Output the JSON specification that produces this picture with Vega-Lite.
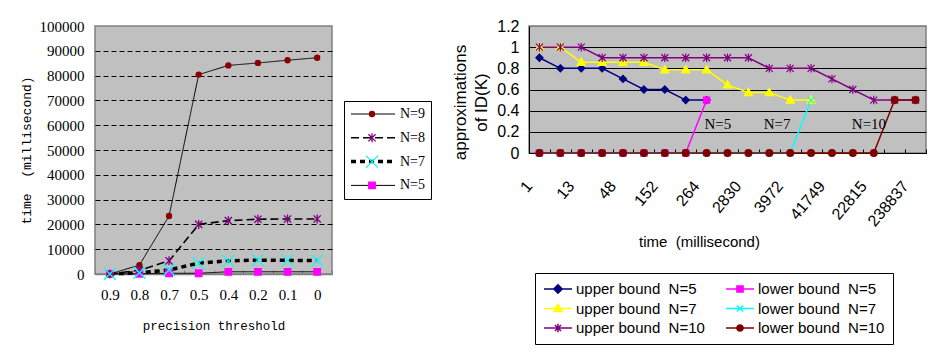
{
  "$schema": "https://vega.github.io/schema/vega-lite/v6.json",
  "background": "white",
  "padding": {"left": 19, "top": 17, "right": 3, "bottom": 5},
  "spacing": 18,
  "resolve": {
    "scale": {"shape": "independent", "fill": "independent", "stroke": "independent", "strokeDash": "independent", "strokeWidth": "independent", "color": "independent"},
    "legend": {"shape": "independent", "fill": "independent", "stroke": "independent", "strokeDash": "independent", "strokeWidth": "independent", "color": "independent"}
  },
  "config": {
    "axis": {"labelColor": "black", "titleColor": "black", "titleFontWeight": "normal"},
    "legend": {"labelColor": "black"}
  },
  "datasets": {
    "left": [
      {"thr": "0.9", "N": "N=5", "t": 0}, {"thr": "0.8", "N": "N=5", "t": 100}, {"thr": "0.7", "N": "N=5", "t": 300}, {"thr": "0.5", "N": "N=5", "t": 300},
      {"thr": "0.4", "N": "N=5", "t": 900}, {"thr": "0.2", "N": "N=5", "t": 900}, {"thr": "0.1", "N": "N=5", "t": 900}, {"thr": "0", "N": "N=5", "t": 900},
      {"thr": "0.9", "N": "N=9", "t": 0}, {"thr": "0.8", "N": "N=9", "t": 3600}, {"thr": "0.7", "N": "N=9", "t": 23400}, {"thr": "0.5", "N": "N=9", "t": 80400},
      {"thr": "0.4", "N": "N=9", "t": 84100}, {"thr": "0.2", "N": "N=9", "t": 85100}, {"thr": "0.1", "N": "N=9", "t": 86200}, {"thr": "0", "N": "N=9", "t": 87200},
      {"thr": "0.9", "N": "N=8", "t": 0}, {"thr": "0.8", "N": "N=8", "t": 1500}, {"thr": "0.7", "N": "N=8", "t": 5300}, {"thr": "0.5", "N": "N=8", "t": 20000},
      {"thr": "0.4", "N": "N=8", "t": 21500}, {"thr": "0.2", "N": "N=8", "t": 22100}, {"thr": "0.1", "N": "N=8", "t": 22200}, {"thr": "0", "N": "N=8", "t": 22200},
      {"thr": "0.9", "N": "N=7", "t": 0}, {"thr": "0.8", "N": "N=7", "t": 500}, {"thr": "0.7", "N": "N=7", "t": 1600}, {"thr": "0.5", "N": "N=7", "t": 4400},
      {"thr": "0.4", "N": "N=7", "t": 5300}, {"thr": "0.2", "N": "N=7", "t": 5600}, {"thr": "0.1", "N": "N=7", "t": 5500}, {"thr": "0", "N": "N=7", "t": 5400}
    ],
    "right": [
      {"s": "upper bound\u00a0 N=5", "i": 0, "v": 0.9}, {"s": "upper bound\u00a0 N=5", "i": 1, "v": 0.8}, {"s": "upper bound\u00a0 N=5", "i": 2, "v": 0.8},
      {"s": "upper bound\u00a0 N=5", "i": 3, "v": 0.8}, {"s": "upper bound\u00a0 N=5", "i": 4, "v": 0.7}, {"s": "upper bound\u00a0 N=5", "i": 5, "v": 0.6},
      {"s": "upper bound\u00a0 N=5", "i": 6, "v": 0.6}, {"s": "upper bound\u00a0 N=5", "i": 7, "v": 0.5}, {"s": "upper bound\u00a0 N=5", "i": 8, "v": 0.5},
      {"s": "upper bound\u00a0 N=7", "i": 0, "v": 1}, {"s": "upper bound\u00a0 N=7", "i": 1, "v": 1}, {"s": "upper bound\u00a0 N=7", "i": 2, "v": 0.857},
      {"s": "upper bound\u00a0 N=7", "i": 3, "v": 0.857}, {"s": "upper bound\u00a0 N=7", "i": 4, "v": 0.857}, {"s": "upper bound\u00a0 N=7", "i": 5, "v": 0.857},
      {"s": "upper bound\u00a0 N=7", "i": 6, "v": 0.786}, {"s": "upper bound\u00a0 N=7", "i": 7, "v": 0.786}, {"s": "upper bound\u00a0 N=7", "i": 8, "v": 0.786},
      {"s": "upper bound\u00a0 N=7", "i": 9, "v": 0.643}, {"s": "upper bound\u00a0 N=7", "i": 10, "v": 0.571}, {"s": "upper bound\u00a0 N=7", "i": 11, "v": 0.571},
      {"s": "upper bound\u00a0 N=7", "i": 12, "v": 0.5}, {"s": "upper bound\u00a0 N=7", "i": 13, "v": 0.5},
      {"s": "upper bound\u00a0 N=10", "i": 0, "v": 1}, {"s": "upper bound\u00a0 N=10", "i": 1, "v": 1}, {"s": "upper bound\u00a0 N=10", "i": 2, "v": 1},
      {"s": "upper bound\u00a0 N=10", "i": 3, "v": 0.9}, {"s": "upper bound\u00a0 N=10", "i": 4, "v": 0.9}, {"s": "upper bound\u00a0 N=10", "i": 5, "v": 0.9},
      {"s": "upper bound\u00a0 N=10", "i": 6, "v": 0.9}, {"s": "upper bound\u00a0 N=10", "i": 7, "v": 0.9}, {"s": "upper bound\u00a0 N=10", "i": 8, "v": 0.9},
      {"s": "upper bound\u00a0 N=10", "i": 9, "v": 0.9}, {"s": "upper bound\u00a0 N=10", "i": 10, "v": 0.9}, {"s": "upper bound\u00a0 N=10", "i": 11, "v": 0.8},
      {"s": "upper bound\u00a0 N=10", "i": 12, "v": 0.8}, {"s": "upper bound\u00a0 N=10", "i": 13, "v": 0.8}, {"s": "upper bound\u00a0 N=10", "i": 14, "v": 0.7},
      {"s": "upper bound\u00a0 N=10", "i": 15, "v": 0.6}, {"s": "upper bound\u00a0 N=10", "i": 16, "v": 0.5}, {"s": "upper bound\u00a0 N=10", "i": 17, "v": 0.5},
      {"s": "upper bound\u00a0 N=10", "i": 18, "v": 0.5},
      {"s": "lower bound\u00a0 N=5", "i": 0, "v": 0}, {"s": "lower bound\u00a0 N=5", "i": 1, "v": 0}, {"s": "lower bound\u00a0 N=5", "i": 2, "v": 0},
      {"s": "lower bound\u00a0 N=5", "i": 3, "v": 0}, {"s": "lower bound\u00a0 N=5", "i": 4, "v": 0}, {"s": "lower bound\u00a0 N=5", "i": 5, "v": 0},
      {"s": "lower bound\u00a0 N=5", "i": 6, "v": 0}, {"s": "lower bound\u00a0 N=5", "i": 7, "v": 0}, {"s": "lower bound\u00a0 N=5", "i": 8, "v": 0.5},
      {"s": "lower bound\u00a0 N=7", "i": 0, "v": 0}, {"s": "lower bound\u00a0 N=7", "i": 1, "v": 0}, {"s": "lower bound\u00a0 N=7", "i": 2, "v": 0},
      {"s": "lower bound\u00a0 N=7", "i": 3, "v": 0}, {"s": "lower bound\u00a0 N=7", "i": 4, "v": 0}, {"s": "lower bound\u00a0 N=7", "i": 5, "v": 0},
      {"s": "lower bound\u00a0 N=7", "i": 6, "v": 0}, {"s": "lower bound\u00a0 N=7", "i": 7, "v": 0}, {"s": "lower bound\u00a0 N=7", "i": 8, "v": 0},
      {"s": "lower bound\u00a0 N=7", "i": 9, "v": 0}, {"s": "lower bound\u00a0 N=7", "i": 10, "v": 0}, {"s": "lower bound\u00a0 N=7", "i": 11, "v": 0},
      {"s": "lower bound\u00a0 N=7", "i": 12, "v": 0}, {"s": "lower bound\u00a0 N=7", "i": 13, "v": 0.5},
      {"s": "lower bound\u00a0 N=10", "i": 0, "v": 0}, {"s": "lower bound\u00a0 N=10", "i": 1, "v": 0}, {"s": "lower bound\u00a0 N=10", "i": 2, "v": 0},
      {"s": "lower bound\u00a0 N=10", "i": 3, "v": 0}, {"s": "lower bound\u00a0 N=10", "i": 4, "v": 0}, {"s": "lower bound\u00a0 N=10", "i": 5, "v": 0},
      {"s": "lower bound\u00a0 N=10", "i": 6, "v": 0}, {"s": "lower bound\u00a0 N=10", "i": 7, "v": 0}, {"s": "lower bound\u00a0 N=10", "i": 8, "v": 0},
      {"s": "lower bound\u00a0 N=10", "i": 9, "v": 0}, {"s": "lower bound\u00a0 N=10", "i": 10, "v": 0}, {"s": "lower bound\u00a0 N=10", "i": 11, "v": 0},
      {"s": "lower bound\u00a0 N=10", "i": 12, "v": 0}, {"s": "lower bound\u00a0 N=10", "i": 13, "v": 0}, {"s": "lower bound\u00a0 N=10", "i": 14, "v": 0},
      {"s": "lower bound\u00a0 N=10", "i": 15, "v": 0}, {"s": "lower bound\u00a0 N=10", "i": 16, "v": 0}, {"s": "lower bound\u00a0 N=10", "i": 17, "v": 0.5},
      {"s": "lower bound\u00a0 N=10", "i": 18, "v": 0.5}
    ],
    "notes": [
      {"i": 8.54, "v": 0.27, "label": "N=5"},
      {"i": 11.37, "v": 0.27, "label": "N=7"},
      {"i": 15.77, "v": 0.27, "label": "N=10"}
    ]
  },
  "hconcat": [
    {
      "width": 237,
      "height": 248,
      "view": {"fill": "#c0c0c0", "stroke": "#808080", "strokeWidth": 1.5},
      "data": {"name": "left"},
      "resolve": {"scale": {"shape": "independent", "fill": "independent", "stroke": "independent"}},
      "encoding": {
        "x": {
          "field": "thr", "type": "ordinal",
          "sort": ["0.9", "0.8", "0.7", "0.5", "0.4", "0.2", "0.1", "0"],
          "scale": {"type": "band", "paddingInner": 0, "paddingOuter": 0},
          "axis": {
            "title": "precision threshold", "titleFont": "Liberation Mono", "titleFontSize": 12.5, "titlePadding": 17,
            "labelAngle": 0, "labelFont": "Liberation Serif", "labelFontSize": 15, "labelPadding": 17,
            "tickBand": "extent", "tickSize": -4, "tickColor": "#808080", "domainColor": "#808080", "domainWidth": 1.5
          }
        },
        "y": {
          "field": "t", "type": "quantitative",
          "scale": {"domain": [0, 100000], "nice": false},
          "axis": {
            "values": [0, 10000, 20000, 30000, 40000, 50000, 60000, 70000, 80000, 90000, 100000],
            "format": "d", "ticks": false, "domain": false,
            "labelFont": "Liberation Serif", "labelFontSize": 15, "labelPadding": 11,
            "grid": true, "gridColor": "black", "gridDash": [5, 3],
            "gridOpacity": {"condition": {"test": "datum.value == 0 || datum.value == 100000", "value": 0}, "value": 1},
            "title": "time\u00a0 (millisecond)", "titleFont": "Liberation Mono", "titleFontSize": 13, "titlePadding": 6
          }
        }
      },
      "layer": [
        {
          "mark": {"type": "line", "color": "black"},
          "encoding": {
            "strokeDash": {
              "field": "N", "type": "nominal",
              "scale": {"domain": ["N=9", "N=8", "N=7", "N=5"], "range": [[1, 0], [8, 4], [5, 4], [1, 0]]},
              "legend": {
                "orient": "none", "legendX": 249, "legendY": 75, "title": null,
                "symbolType": "stroke", "symbolSize": 1936, "symbolStrokeColor": "black",
                "strokeColor": "black", "fillColor": "white", "padding": 5, "rowPadding": 7.8, "clipHeight": 16,
                "labelFont": "Liberation Serif", "labelFontSize": 14, "labelOffset": 3
              }
            },
            "strokeWidth": {
              "field": "N", "type": "nominal",
              "scale": {"type": "ordinal", "domain": ["N=9", "N=8", "N=7", "N=5"], "range": [1, 1.6, 3.5, 1]}
            }
          }
        },
        {
          "mark": {"type": "point", "filled": true, "size": 144, "opacity": 1, "strokeWidth": 1.3},
          "encoding": {
            "shape": {
              "field": "N", "type": "nominal",
              "scale": {"domain": ["N=9", "N=8", "N=7", "N=5"], "range": [
                "M0.42,0A0.42,0.42 0 1,1 -0.42,0A0.42,0.42 0 1,1 0.42,0Z",
                "M-0.6,-0.6L0.6,0.6M-0.6,0.6L0.6,-0.6M0,-0.75V0.75",
                "M-1,-1L1,1M-1,1L1,-1",
                "M-0.54,-0.54H0.54V0.54H-0.54Z"
              ]},
              "legend": {
                "orient": "none", "legendX": 249, "legendY": 75, "title": null,
                "symbolSize": 144, "symbolOffset": 16, "symbolStrokeWidth": 1.3, "symbolOpacity": 1,
                "padding": 5, "rowPadding": 7.8, "clipHeight": 16,
                "labelFont": "Liberation Serif", "labelFontSize": 14, "labelOffset": 3, "labelOpacity": 0, "labelExpr": "''"
              }
            },
            "fill": {
              "field": "N", "type": "nominal",
              "scale": {"domain": ["N=9", "N=8", "N=7", "N=5"], "range": ["#8b0000", "#800080", "#00ffff", "#ff00ff"]}
            },
            "stroke": {
              "field": "N", "type": "nominal",
              "scale": {"domain": ["N=9", "N=8", "N=7", "N=5"], "range": ["#8b0000", "#800080", "#00ffff", "#ff00ff"]}
            }
          }
        }
      ]
    },
    {
      "width": 397,
      "height": 127,
      "view": {"fill": "#c0c0c0", "stroke": "#808080", "strokeWidth": 1.5},
      "resolve": {"scale": {"shape": "independent", "fill": "independent", "stroke": "independent"}},
      "encoding": {
        "x": {
          "field": "i", "type": "quantitative",
          "scale": {"domain": [-0.5, 18.5], "nice": false, "zero": false},
          "axis": {
            "values": [-0.5, 0.5, 1.5, 2.5, 3.5, 4.5, 5.5, 6.5, 7.5, 8.5, 9.5, 10.5, 11.5, 12.5, 13.5, 14.5, 15.5, 16.5, 17.5, 18.5],
            "labelExpr": "((datum.value + 0.5) / 2 == floor((datum.value + 0.5) / 2)) ? ['1', '13', '48', '152', '264', '2830', '3972', '41749', '22815', '238837'][(datum.value + 0.5) / 2] : ''",
            "labelAngle": -50, "labelAlign": "right", "labelBaseline": "middle",
            "labelFont": "Liberation Sans", "labelFontSize": 16, "labelPadding": 34, "labelOverlap": false, "labelFlush": false,
            "grid": false, "tickSize": -4, "tickColor": "black", "domainColor": "black",
            "title": "time\u00a0 (millisecond)", "titleFont": "Liberation Sans", "titleFontSize": 15, "titlePadding": 5, "titleX": 170
          }
        },
        "y": {
          "field": "v", "type": "quantitative",
          "scale": {"domain": [0, 1.2], "nice": false},
          "axis": {
            "values": [0, 0.2, 0.4, 0.6, 0.8, 1, 1.2], "format": ".1~f",
            "grid": true, "gridColor": {"condition": {"test": "datum.value >= 1.2", "value": "#808080"}, "value": "black"},
            "ticks": false, "domainColor": "black",
            "labelFont": "Liberation Sans", "labelFontSize": 16, "labelPadding": 10,
            "title": ["approximations", "of ID(K)"], "titleFont": "Liberation Sans", "titleFontSize": 17,
            "titleLineHeight": 21, "titlePadding": 6, "titleY": 76
          }
        }
      },
      "layer": [
        {
          "data": {"name": "right"},
          "mark": {"type": "line", "strokeWidth": 1.5},
          "encoding": {
            "stroke": {
              "field": "s", "type": "nominal",
              "scale": {
                "domain": ["upper bound\u00a0 N=5", "upper bound\u00a0 N=7", "upper bound\u00a0 N=10", "lower bound\u00a0 N=5", "lower bound\u00a0 N=7", "lower bound\u00a0 N=10"],
                "range": ["#000080", "#ffff00", "#800080", "#ff00ff", "#00ffff", "#800000"]
              },
              "legend": null
            }
          }
        },
        {
          "data": {"name": "right"},
          "mark": {"type": "point", "filled": true, "size": 100, "opacity": 1, "strokeWidth": 1.2},
          "encoding": {
            "shape": {
              "field": "s", "type": "nominal",
              "scale": {
                "domain": ["upper bound\u00a0 N=5", "upper bound\u00a0 N=7", "upper bound\u00a0 N=10", "lower bound\u00a0 N=5", "lower bound\u00a0 N=7", "lower bound\u00a0 N=10"],
                "range": [
                  "M0,-0.72L0.72,0L0,0.72L-0.72,0Z",
                  "M0,-0.85L0.8,0.6H-0.8Z",
                  "M-0.7,-0.7L0.7,0.7M-0.7,0.7L0.7,-0.7M0,-0.85V0.85",
                  "M-0.62,-0.62H0.62V0.62H-0.62Z",
                  "M-0.65,-0.65L0.65,0.65M-0.65,0.65L0.65,-0.65",
                  "M0.68,0A0.68,0.68 0 1,1 -0.68,0A0.68,0.68 0 1,1 0.68,0Z"
                ]
              },
              "legend": null
            },
            "fill": {
              "field": "s", "type": "nominal",
              "scale": {
                "domain": ["upper bound\u00a0 N=5", "upper bound\u00a0 N=7", "upper bound\u00a0 N=10", "lower bound\u00a0 N=5", "lower bound\u00a0 N=7", "lower bound\u00a0 N=10"],
                "range": ["#000080", "#ffff00", "#800080", "#ff00ff", "#00ffff", "#800000"]
              },
              "legend": null
            },
            "stroke": {
              "field": "s", "type": "nominal",
              "scale": {
                "domain": ["upper bound\u00a0 N=5", "upper bound\u00a0 N=7", "upper bound\u00a0 N=10", "lower bound\u00a0 N=5", "lower bound\u00a0 N=7", "lower bound\u00a0 N=10"],
                "range": ["#000080", "#ffff00", "#800080", "#ff00ff", "#00ffff", "#800000"]
              },
              "legend": null
            }
          }
        },
        {
          "data": {"name": "notes"},
          "mark": {"type": "text", "font": "Liberation Serif", "fontSize": 15, "color": "black", "baseline": "middle", "align": "center"},
          "encoding": {
            "text": {"field": "label", "type": "nominal"}
          }
        },
        {
          "data": {"name": "right"},
          "mark": {"type": "point", "filled": true, "size": 784, "opacity": 0, "strokeWidth": 1.5},
          "encoding": {
            "shape": {
              "field": "s", "type": "nominal",
              "scale": {
                "domain": ["upper bound\u00a0 N=5", "upper bound\u00a0 N=7", "upper bound\u00a0 N=10", "lower bound\u00a0 N=5", "lower bound\u00a0 N=7", "lower bound\u00a0 N=10"],
                "range": [
                  "M-1,0H1M0,-0.3L0.3,0L0,0.3L-0.3,0Z",
                  "M-1,0H1M0,-0.32L0.3,0.22H-0.3Z",
                  "M-1,0H1M-0.22,-0.22L0.22,0.22M-0.22,0.22L0.22,-0.22M0,-0.3V0.3",
                  "M-1,0H1M-0.22,-0.22H0.22V0.22H-0.22Z",
                  "M-1,0H1M-0.22,-0.22L0.22,0.22M-0.22,0.22L0.22,-0.22",
                  "M-1,0H1M0.22,0A0.22,0.22 0 1,1 -0.22,0A0.22,0.22 0 1,1 0.22,0Z"
                ]
              },
              "legend": {
                "orient": "none", "legendX": 6, "legendY": 247, "title": null,
                "columns": 2, "columnPadding": 20, "rowPadding": 3.5, "clipHeight": 16,
                "symbolSize": 784, "symbolStrokeWidth": 1.5, "symbolOpacity": 1,
                "padding": 8, "strokeColor": "black", "fillColor": "white",
                "labelFont": "Liberation Sans", "labelFontSize": 15, "labelOffset": 3, "labelLimit": 300
              }
            },
            "fill": {
              "field": "s", "type": "nominal",
              "scale": {
                "domain": ["upper bound\u00a0 N=5", "upper bound\u00a0 N=7", "upper bound\u00a0 N=10", "lower bound\u00a0 N=5", "lower bound\u00a0 N=7", "lower bound\u00a0 N=10"],
                "range": ["#000080", "#ffff00", "#800080", "#ff00ff", "#00ffff", "#800000"]
              }
            },
            "stroke": {
              "field": "s", "type": "nominal",
              "scale": {
                "domain": ["upper bound\u00a0 N=5", "upper bound\u00a0 N=7", "upper bound\u00a0 N=10", "lower bound\u00a0 N=5", "lower bound\u00a0 N=7", "lower bound\u00a0 N=10"],
                "range": ["#000080", "#ffff00", "#800080", "#ff00ff", "#00ffff", "#800000"]
              }
            }
          }
        }
      ]
    }
  ]
}
